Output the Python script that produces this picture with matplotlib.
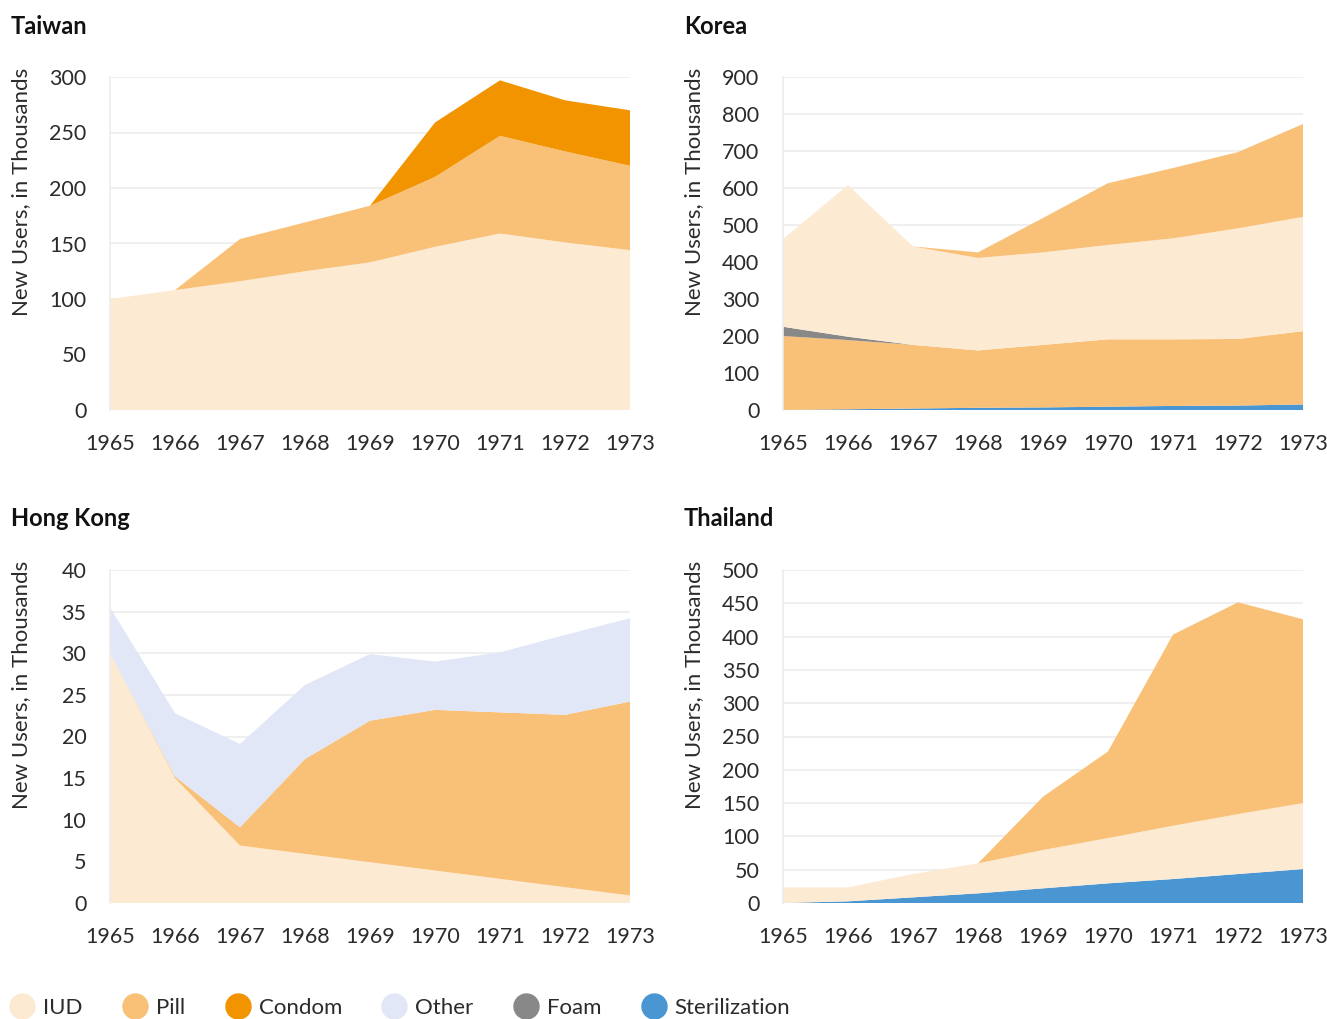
import matplotlib
matplotlib.use("Agg")
import matplotlib.pyplot as plt
from matplotlib.lines import Line2D

plt.rcParams['font.family'] = ['Lato', 'DejaVu Sans']

years = [1965, 1966, 1967, 1968, 1969, 1970, 1971, 1972, 1973]
year_labels = [str(y) for y in years]

# Taiwan (thousands)
taiwan_iud = [100, 108, 116, 125, 133, 147, 159, 151, 144]
taiwan_pill = [0, 0, 38, 44, 51, 63, 88, 82, 76]
taiwan_condom = [0, 0, 0, 0, 0, 49, 50, 46, 50]

# Korea (thousands)
korea_sterilization = [0, 2, 4, 6, 7, 9, 11, 12, 15]
korea_condom = [200, 187, 172, 155, 169, 182, 180, 180, 198]
korea_foam = [25, 9, 0, 0, 0, 0, 0, 0, 0]
korea_iud = [237, 410, 266, 250, 250, 255, 273, 299, 309]
korea_pill = [0, 0, 0, 15, 93, 167, 190, 206, 251]

# Hong Kong (thousands)
hk_iud = [30, 15, 6.9, 5.9, 4.9, 3.9, 2.9, 1.9, 0.9]
hk_pill = [0, 0.2, 2.2, 11.4, 17, 19.3, 20, 20.7, 23.3]
hk_other = [5.5, 7.6, 10, 8.9, 8, 5.8, 7.2, 9.6, 10]

# Thailand (thousands)
th_sterilization = [0, 2.5, 8.5, 14.5, 22, 29.5, 36, 43.5, 51]
th_iud = [23.5, 21, 35, 45, 57.6, 68, 80, 90, 99]
th_pill = [0, 0, 0, 0, 80, 130, 287, 318, 276]

legend_labels = ["IUD", "Pill", "Condom", "Other", "Foam", "Sterilization"]
COL = {
    "IUD": "#FDEAD2",
    "Pill": "#F9C077",
    "Condom": "#F29400",
    "Other": "#E1E7F6",
    "Foam": "#888888",
    "Sterilization": "#4A96D2",
}

W, H = 1327, 1019
fig = plt.figure(figsize=(W / 100, H / 100), dpi=100)

TEXT = "#2b2b2b"
GRID = "#ececec"


def make_ax(left_px, top_px, right_px, bottom_px):
    return fig.add_axes([left_px / W, 1 - bottom_px / H,
                         (right_px - left_px) / W, (bottom_px - top_px) / H])


panels = [
    dict(title="Taiwan", box=(110, 77, 630, 410), ymax=300, step=50,
         series=[taiwan_iud, taiwan_pill, taiwan_condom],
         colors=[COL["IUD"], COL["Pill"], COL["Condom"]],
         title_xy=(11, 26), ylab_xy=(21, 192)),
    dict(title="Korea", box=(783, 77, 1303, 410), ymax=900, step=100,
         series=[korea_sterilization, korea_condom, korea_foam, korea_iud, korea_pill],
         colors=[COL["Sterilization"], COL["Pill"], COL["Foam"], COL["IUD"], COL["Pill"]],
         title_xy=(684, 26), ylab_xy=(694, 192)),
    dict(title="Hong Kong", box=(110, 570, 630, 903), ymax=40, step=5,
         series=[hk_iud, hk_pill, hk_other],
         colors=[COL["IUD"], COL["Pill"], COL["Other"]],
         title_xy=(11, 519), ylab_xy=(21, 685)),
    dict(title="Thailand", box=(783, 570, 1303, 903), ymax=500, step=50,
         series=[th_sterilization, th_iud, th_pill],
         colors=[COL["Sterilization"], COL["IUD"], COL["Pill"]],
         title_xy=(684, 519), ylab_xy=(694, 685)),
]

for p in panels:
    ax = make_ax(*p["box"])
    ax.stackplot(years, *p["series"], colors=p["colors"], linewidth=0, zorder=2)
    ax.set_xlim(years[0], years[-1])
    ax.set_ylim(0, p["ymax"])
    yt = list(range(0, p["ymax"] + 1, p["step"]))
    ax.set_yticks(yt)
    ax.set_xticks(years)
    ax.set_xticklabels(year_labels)
    ax.grid(axis="y", color=GRID, linewidth=1.2, zorder=0)
    ax.set_axisbelow(True)
    for s in ["top", "right", "bottom"]:
        ax.spines[s].set_visible(False)
    ax.spines["left"].set_color(GRID)
    ax.spines["left"].set_linewidth(1.2)
    ax.tick_params(axis="both", length=0, labelsize=15.5, labelcolor=TEXT)
    ax.tick_params(axis="x", pad=17)
    ax.tick_params(axis="y", pad=17)
    tx, ty = p["title_xy"]
    fig.text(tx / W, 1 - ty / H, p["title"], fontsize=17, fontweight="bold",
             color="#111111", ha="left", va="center")
    lx, ly = p["ylab_xy"]
    fig.text(lx / W, 1 - ly / H, "New Users, in Thousands", rotation=90,
             fontsize=16, color=TEXT, ha="center", va="center")

handles = [Line2D([0], [0], marker="o", linestyle="none", markersize=18,
                  markerfacecolor=COL[k], markeredgecolor=COL[k]) for k in legend_labels]
leg = fig.legend(handles, legend_labels, loc="center left",
                 bbox_to_anchor=(0.0, 1 - 1008 / H), ncol=6, frameon=False,
                 fontsize=16, handletextpad=0.35, columnspacing=1.75,
                 handlelength=1.2, borderaxespad=0)
for t in leg.get_texts():
    t.set_color(TEXT)

fig.savefig("out.png", dpi=100, facecolor="white")
